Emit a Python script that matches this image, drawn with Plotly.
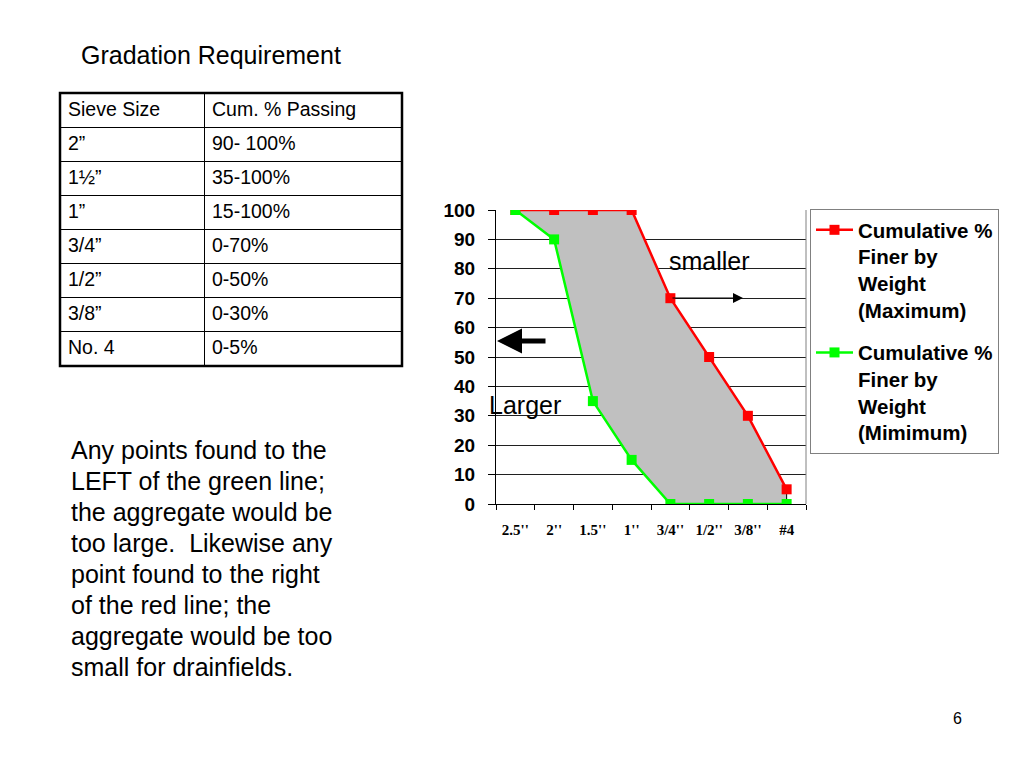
import plotly.graph_objects as go

# ---- data ----
sieves = ['2.5"', '2"', '1.5"', '1"', '3/4"', '1/2"', '3/8"', '#4']
sieve_labels = ["2.5''", "2''", "1.5''", "1''", "3/4''", "1/2''", "3/8''", "#4"]
max_pass = [100, 100, 100, 100, 70, 50, 30, 5]
min_pass = [100, 90, 35, 15, 0, 0, 0, 0]

table_header = ["Sieve Size", "Cum. % Passing"]
table_sizes = ["2”", "1½”", "1”", "3/4”", "1/2”", "3/8”", "No. 4"]
table_ranges = ["90- 100%", "35-100%", "15-100%", "0-70%", "0-50%", "0-30%", "0-5%"]

note_lines = ["Any points found to the", "LEFT of the green line;",
              "the aggregate would be", "too large.  Likewise any",
              "point found to the right", "of the red line; the",
              "aggregate would be too", "small for drainfields."]

W, H = 1024, 768
def px(x): return x / W
def py(y): return 1 - y / H

fig = go.Figure()

# shaded band between limits
fig.add_trace(go.Scatter(
    x=sieves + sieves[::-1], y=max_pass + min_pass[::-1],
    fill="toself", fillcolor="#c0c0c0", mode="lines",
    line=dict(color="black", width=1), showlegend=False, hoverinfo="skip"))

fig.add_trace(go.Scatter(
    x=sieves, y=max_pass, mode="lines+markers", legendgroup="max",
    name="Cumulative %<br>Finer by<br>Weight<br>(Maximum)",
    line=dict(color="#ff0000", width=2.5),
    marker=dict(symbol="square", size=10, color="#ff0000")))
fig.add_trace(go.Scatter(
    x=sieves, y=min_pass, mode="lines+markers", legendgroup="min",
    name="Cumulative %<br>Finer by<br>Weight<br>(Mimimum)",
    line=dict(color="#00ff00", width=2.5),
    marker=dict(symbol="square", size=10, color="#00ff00")))

# table
tfont = dict(family="Liberation Sans, Arial", size=19.5, color="black")
fig.add_trace(go.Table(
    domain=dict(x=[px(60), px(402)], y=[py(366), py(93)]),
    columnwidth=[144, 198],
    header=dict(values=table_header, align="left",
                fill_color="white", line=dict(color="black", width=1),
                font=tfont, height=34.1),
    cells=dict(values=[table_sizes, table_ranges], align="left",
               fill_color="white", line=dict(color="black", width=1),
               font=tfont, height=34.1)))

annotations = [
    dict(text="Gradation Requirement", xref="paper", yref="paper",
         x=px(79), y=py(55), xanchor="left", yanchor="middle", showarrow=False,
         font=dict(size=25)),
    dict(text="6", xref="paper", yref="paper", x=px(957), y=py(718),
         xanchor="center", yanchor="middle", showarrow=False, font=dict(size=16)),
    dict(text="smaller", xref="paper", yref="paper", x=px(709), y=py(261),
         xanchor="center", yanchor="middle", showarrow=False, font=dict(size=25)),
    dict(text="Larger", xref="paper", yref="paper", x=px(525), y=py(405),
         xanchor="center", yanchor="middle", showarrow=False, font=dict(size=25)),
    dict(text="", xref="paper", yref="paper", x=px(743), y=py(298),
         ax=-72, ay=0, axref="pixel", ayref="pixel",
         showarrow=True, arrowhead=2, arrowsize=2, arrowwidth=1,
         arrowcolor="black"),
    dict(text="", xref="paper", yref="paper", x=px(497), y=py(341),
         ax=50, ay=0, axref="pixel", ayref="pixel",
         showarrow=True, arrowhead=2, arrowsize=1, arrowwidth=5,
         arrowcolor="black"),
]
for i, line in enumerate(note_lines):
    annotations.append(dict(text=line, xref="paper", yref="paper",
                            x=px(69), y=py(450 + 31 * i), xanchor="left",
                            yanchor="middle", showarrow=False, font=dict(size=25)))

fig.update_layout(
    width=W, height=H, margin=dict(l=0, r=0, t=0, b=0, autoexpand=False),
    paper_bgcolor="white", plot_bgcolor="white",
    font=dict(family="Liberation Sans, Arial", color="black"),
    xaxis=dict(domain=[px(496), px(806)], type="category",
               categoryorder="array", categoryarray=sieves,
               tickvals=sieves, ticktext=sieve_labels,
               tickson="boundaries", ticks="outside", ticklen=5, tickcolor="black",
               showline=True, linecolor="black", linewidth=1, showgrid=False,
               tickfont=dict(family="Liberation Serif, Times New Roman", size=15,
                             weight="bold", color="black"),
               ticklabelstandoff=12, range=[-0.5, 7.5], fixedrange=True),
    yaxis=dict(domain=[py(504), py(210)], range=[0, 100], dtick=10,
               ticks="outside", ticklen=7, tickcolor="black",
               showline=True, linecolor="black", linewidth=1,
               showgrid=True, gridcolor="#202020", gridwidth=1, zeroline=False,
               tickfont=dict(family="Liberation Sans, Arial", size=19,
                             weight="bold", color="black"),
               ticklabelstandoff=9, fixedrange=True),
    legend=dict(x=px(810), y=py(209), xanchor="left", yanchor="top",
                bordercolor="#808080", borderwidth=1, bgcolor="white",
                valign="top", tracegroupgap=13, itemwidth=37,
                font=dict(family="Liberation Sans, Arial", size=20.5,
                          weight="bold", color="black")),
    shapes=[
        dict(type="line", xref="x domain", yref="y domain", x0=1, x1=1, y0=0, y1=1,
             line=dict(color="#808080", width=1)),
        dict(type="rect", xref="paper", yref="paper", x0=px(60), x1=px(402),
             y0=py(366), y1=py(93), line=dict(color="black", width=2.5)),
    ],
    annotations=annotations,
)

fig.write_html("out.html", config={"displayModeBar": False},
               post_script="document.body.style.margin='0';")
